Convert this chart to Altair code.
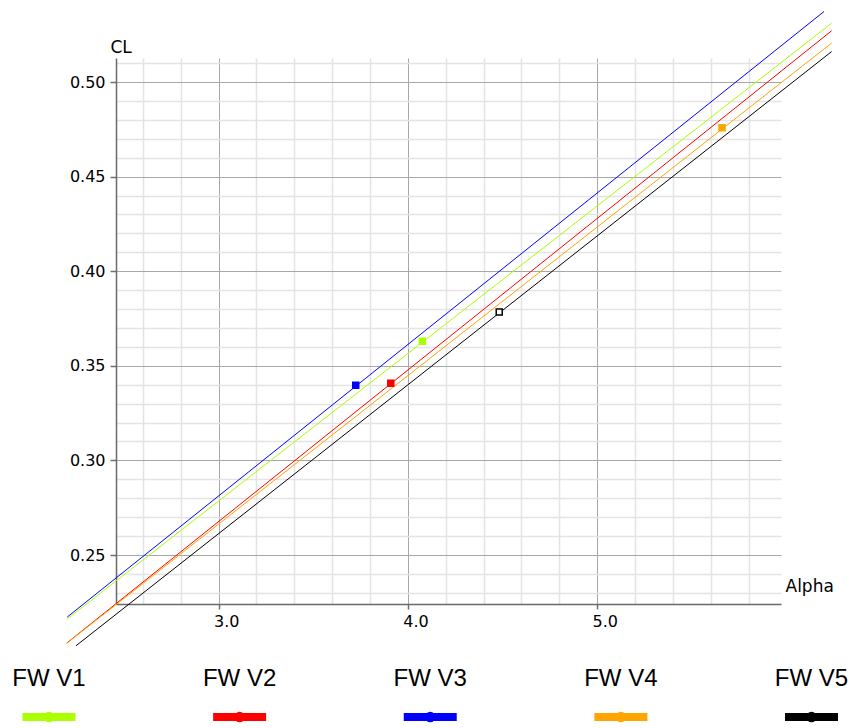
import altair as alt
import pandas as pd

# ---------------- data ----------------
series = ["FW V1", "FW V2", "FW V3", "FW V4", "FW V5"]
line_alpha_start = [2.200, 2.198, 2.201, 2.198, 2.247]
line_cl_start = [0.2161, 0.2034, 0.2172, 0.2033, 0.2020]
line_alpha_end = [6.239, 6.239, 6.199, 6.239, 6.239]
line_cl_end = [0.5311, 0.5271, 0.5373, 0.5206, 0.5161]
point_alpha = [4.077, 3.910, 3.725, 5.660, 4.483]
point_cl = [0.3630, 0.3408, 0.3397, 0.4758, 0.3785]

x_major_ticks = [3.0, 4.0, 5.0]
y_major_ticks = [0.25, 0.30, 0.35, 0.40, 0.45, 0.50]
x_minor_ticks = [2.6, 2.8, 3.2, 3.4, 3.6, 3.8, 4.2, 4.4, 4.6, 4.8, 5.2, 5.4, 5.6, 5.8]
y_minor_ticks = [0.23, 0.24, 0.26, 0.27, 0.28, 0.29, 0.31, 0.32, 0.33, 0.34,
                 0.36, 0.37, 0.38, 0.39, 0.41, 0.42, 0.43, 0.44, 0.46, 0.47,
                 0.48, 0.49, 0.51]
x_domain = [2.4585, 5.9715]
y_domain = [0.2241, 0.5127]

# ---------------- styles ----------------
palette = ["#aaff00", "#ff0000", "#0000ff", "#ffa500", "#000000"]
W, H = 665, 546
FONT = "DejaVu Sans"

lines_df = pd.DataFrame(
    [{"series": s, "alpha": a0, "cl": c0} for s, a0, c0 in zip(series, line_alpha_start, line_cl_start)]
    + [{"series": s, "alpha": a1, "cl": c1} for s, a1, c1 in zip(series, line_alpha_end, line_cl_end)]
)
points_df = pd.DataFrame({"series": series, "alpha": point_alpha, "cl": point_cl})
legend_df = pd.DataFrame({"series": series})

color_scale = alt.Scale(domain=series, range=palette)
xs = alt.Scale(domain=x_domain, nice=False, zero=False)
ys = alt.Scale(domain=y_domain, nice=False, zero=False)

minor_x_axis = alt.Axis(values=x_minor_ticks, grid=True, gridColor="#e4e4e4", gridWidth=1.5,
                        labels=False, ticks=False, domain=False, title=None, orient="bottom")
minor_y_axis = alt.Axis(values=y_minor_ticks, grid=True, gridColor="#e4e4e4", gridWidth=1.5,
                        labels=False, ticks=False, domain=False, title=None, orient="left")

major_x_axis = alt.Axis(
    values=x_major_ticks, format=".1f", orient="bottom",
    grid=True, gridColor="#a8a8a8", gridWidth=1,
    labelFont=FONT, labelFontSize=16, labelColor="black",
    labelAlign="left", labelOffset=-5, labelPadding=4,
    tickSize=5, tickColor="#707070", tickWidth=1.5,
    domainColor="#6a6a6a", domainWidth=1.5,
    title="Alpha", titleFont=FONT, titleFontSize=17, titleFontWeight="normal",
    titleColor="black", titleAngle=0, titleAlign="left", titleBaseline="alphabetic",
    titleX=W + 4, titleY=-12.5,
)
major_y_axis = alt.Axis(
    values=y_major_ticks, format=".2f", orient="left",
    grid=True, gridColor="#a8a8a8", gridWidth=1,
    labelFont=FONT, labelFontSize=16, labelColor="black", labelPadding=5,
    tickSize=6, tickColor="#707070", tickWidth=1.5,
    domainColor="#6a6a6a", domainWidth=1.5,
    title="CL", titleFont=FONT, titleFontSize=17, titleFontWeight="normal",
    titleColor="black", titleAngle=0, titleAlign="left", titleBaseline="alphabetic",
    titleX=-6, titleY=-5.5,
)

lines = alt.Chart(lines_df).mark_line(strokeWidth=1).encode(
    x=alt.X("alpha:Q", scale=xs, axis=minor_x_axis),
    y=alt.Y("cl:Q", scale=ys, axis=minor_y_axis),
    color=alt.Color("series:N", scale=color_scale, legend=None),
    detail="series:N",
)

points = alt.Chart(points_df).mark_point(shape="square", size=36, strokeWidth=1.5, opacity=1).encode(
    x=alt.X("alpha:Q", scale=xs, axis=major_x_axis),
    y=alt.Y("cl:Q", scale=ys, axis=major_y_axis),
    stroke=alt.Stroke("series:N", scale=color_scale, legend=None),
    fill=alt.condition(alt.datum.series == "FW V5", alt.value("white"),
                       alt.Fill("series:N", scale=color_scale, legend=None)),
)

main = alt.layer(lines, points).resolve_axis(x="independent", y="independent")

# custom legend below the plot: label above a line+dot swatch
leg_x = alt.X("slot:Q", axis=None,
              scale=alt.Scale(domain=[1, len(series)], range=[-67, 695.5], nice=False, zero=False))

leg_base = alt.Chart(legend_df).transform_window(slot="row_number()")

leg_text = leg_base.mark_text(font="Liberation Sans", fontSize=24, align="center",
                              baseline="alphabetic", color="black").encode(
    x=leg_x, y=alt.value(628), text="series:N"
)
leg_bar = leg_base.mark_tick(orient="horizontal", size=53, thickness=8, opacity=1).encode(
    x=leg_x, y=alt.value(659),
    color=alt.Color("series:N", scale=color_scale, legend=None),
)
leg_dot = leg_base.mark_circle(size=113, opacity=1).encode(
    x=leg_x, y=alt.value(659),
    color=alt.Color("series:N", scale=color_scale, legend=None),
)
legend = alt.layer(leg_text, leg_bar, leg_dot)

chart = alt.layer(main, legend).resolve_scale(x="independent").properties(
    width=W, height=H,
    autosize=alt.AutoSizeParams(type="none"),
    padding={"left": 116, "top": 58, "right": 70, "bottom": 124},
    background="white",
).configure_view(stroke=None)

chart.save("out.html", embed_options={"renderer": "svg", "actions": False})
